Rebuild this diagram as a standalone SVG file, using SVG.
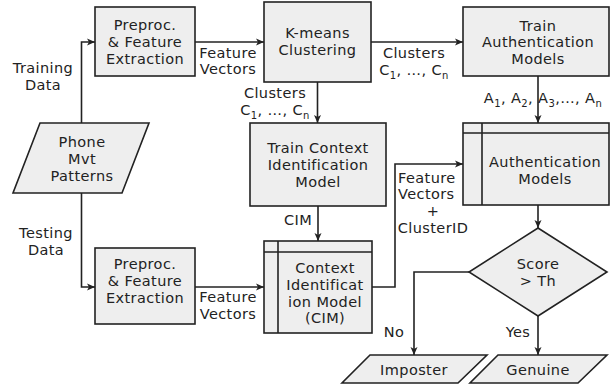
<svg xmlns="http://www.w3.org/2000/svg" width="610" height="389" viewBox="0 0 610 389">
<defs>
<marker id="arr" markerUnits="userSpaceOnUse" markerWidth="10" markerHeight="8" refX="8" refY="4" orient="auto">
<path d="M0,0.5 L8,4 L0,7.5 L2,4 Z" fill="#222"/>
</marker>
</defs>
<style>
text{font-family:"DejaVu Sans",Verdana,sans-serif;font-size:14.5px;letter-spacing:0.4px;fill:#222;text-anchor:middle}
.b{fill:#eeeeee;stroke:#222;stroke-width:1.6}
.c{fill:none;stroke:#222;stroke-width:1.6;marker-end:url(#arr)}
.n{fill:none;stroke:#222;stroke-width:1.6}
.s{font-size:10px}
</style>
<rect width="610" height="389" fill="#fff"/>
<g id="connectors">
<path class="c" d="M81.5,123 V42 H95"/>
<path class="c" d="M81.5,193 V287 H95"/>
<path class="c" d="M195,42 H264"/>
<path class="c" d="M195,287 H264"/>
<path class="c" d="M371,42 H463"/>
<path class="c" d="M317.5,82 V123"/>
<path class="c" d="M318,206 V241"/>
<path class="c" d="M538,76 V123"/>
<path class="c" d="M372,287 H395 V164 H463"/>
<path class="c" d="M538,205 V228"/>
<path class="c" d="M469,272 H414 V355"/>
<path class="c" d="M538,316 V355"/>
<text x="43" y="73">Training</text>
<text x="43" y="90">Data</text>
<text x="46" y="238">Testing</text>
<text x="46" y="255">Data</text>
<text x="228" y="58">Feature</text>
<text x="228" y="74">Vectors</text>
<text x="228" y="302">Feature</text>
<text x="228" y="319">Vectors</text>
<text x="414" y="58">Clusters</text>
<text x="414" y="75">C<tspan class="s" dy="4">1</tspan><tspan dy="-4">, …, C</tspan><tspan class="s" dy="4">n</tspan></text>
<text x="275" y="98">Clusters</text>
<text x="275" y="115">C<tspan class="s" dy="4">1</tspan><tspan dy="-4">, …, C</tspan><tspan class="s" dy="4">n</tspan></text>
<text x="543" y="103">A<tspan class="s" dy="4">1</tspan><tspan dy="-4">, A</tspan><tspan class="s" dy="4">2</tspan><tspan dy="-4">, A</tspan><tspan class="s" dy="4">3</tspan><tspan dy="-4">,…, A</tspan><tspan class="s" dy="4">n</tspan></text>
<text x="298" y="225">CIM</text>
<text x="398" y="183" style="text-anchor:start">Feature</text>
<text x="398" y="199" style="text-anchor:start">Vectors</text>
<text x="433" y="216">+</text>
<text x="433" y="233">ClusterID</text>
<text x="394" y="337">No</text>
<text x="518" y="337">Yes</text>
</g>
<g id="phone">
<polygon class="b" points="40,123 149,123 122,193 13,193"/>
<text x="82" y="147">Phone</text>
<text x="82" y="164">Mvt</text>
<text x="82" y="181">Patterns</text>
</g>
<g id="preproc-train">
<rect class="b" x="95" y="7" width="100" height="69"/>
<text x="145" y="30">Preproc.</text>
<text x="145" y="47">&amp; Feature</text>
<text x="145" y="64">Extraction</text>
</g>
<g id="preproc-test">
<rect class="b" x="95" y="248" width="100" height="76"/>
<text x="145" y="269">Preproc.</text>
<text x="145" y="286">&amp; Feature</text>
<text x="145" y="303">Extraction</text>
</g>
<g id="kmeans">
<rect class="b" x="264" y="2" width="107" height="80"/>
<text x="317.5" y="38">K-means</text>
<text x="317.5" y="55">Clustering</text>
</g>
<g id="train-auth">
<rect class="b" x="463" y="7" width="146" height="69"/>
<text x="538" y="31">Train</text>
<text x="538" y="47">Authentication</text>
<text x="538" y="64">Models</text>
</g>
<g id="train-context">
<rect class="b" x="250" y="123" width="136" height="83"/>
<text x="318" y="153">Train Context</text>
<text x="318" y="170">Identification</text>
<text x="318" y="187">Model</text>
</g>
<g id="auth-models">
<rect class="b" x="463" y="123" width="146" height="82"/>
<path class="n" d="M463,133 H609 M482,123 V205"/>
<text x="545" y="167">Authentication</text>
<text x="545" y="184">Models</text>
</g>
<g id="cim">
<rect class="b" x="264" y="241" width="108" height="92"/>
<path class="n" d="M264,252 H372 M278,241 V333"/>
<text x="325" y="273">Context</text>
<text x="325" y="290">Identificat</text>
<text x="325" y="307">ion Model</text>
<text x="325" y="323">(CIM)</text>
</g>
<g id="decision">
<polygon class="b" points="538,228 607,272 538,316 469,272"/>
<text x="538" y="269">Score</text>
<text x="538" y="286">&gt; Th</text>
</g>
<g id="imposter">
<polygon class="b" points="370,355 487,355 458,383 342,383"/>
<text x="414" y="375">Imposter</text>
</g>
<g id="genuine">
<polygon class="b" points="498,355 607,355 578,383 470,383"/>
<text x="538" y="375">Genuine</text>
</g>
</svg>
